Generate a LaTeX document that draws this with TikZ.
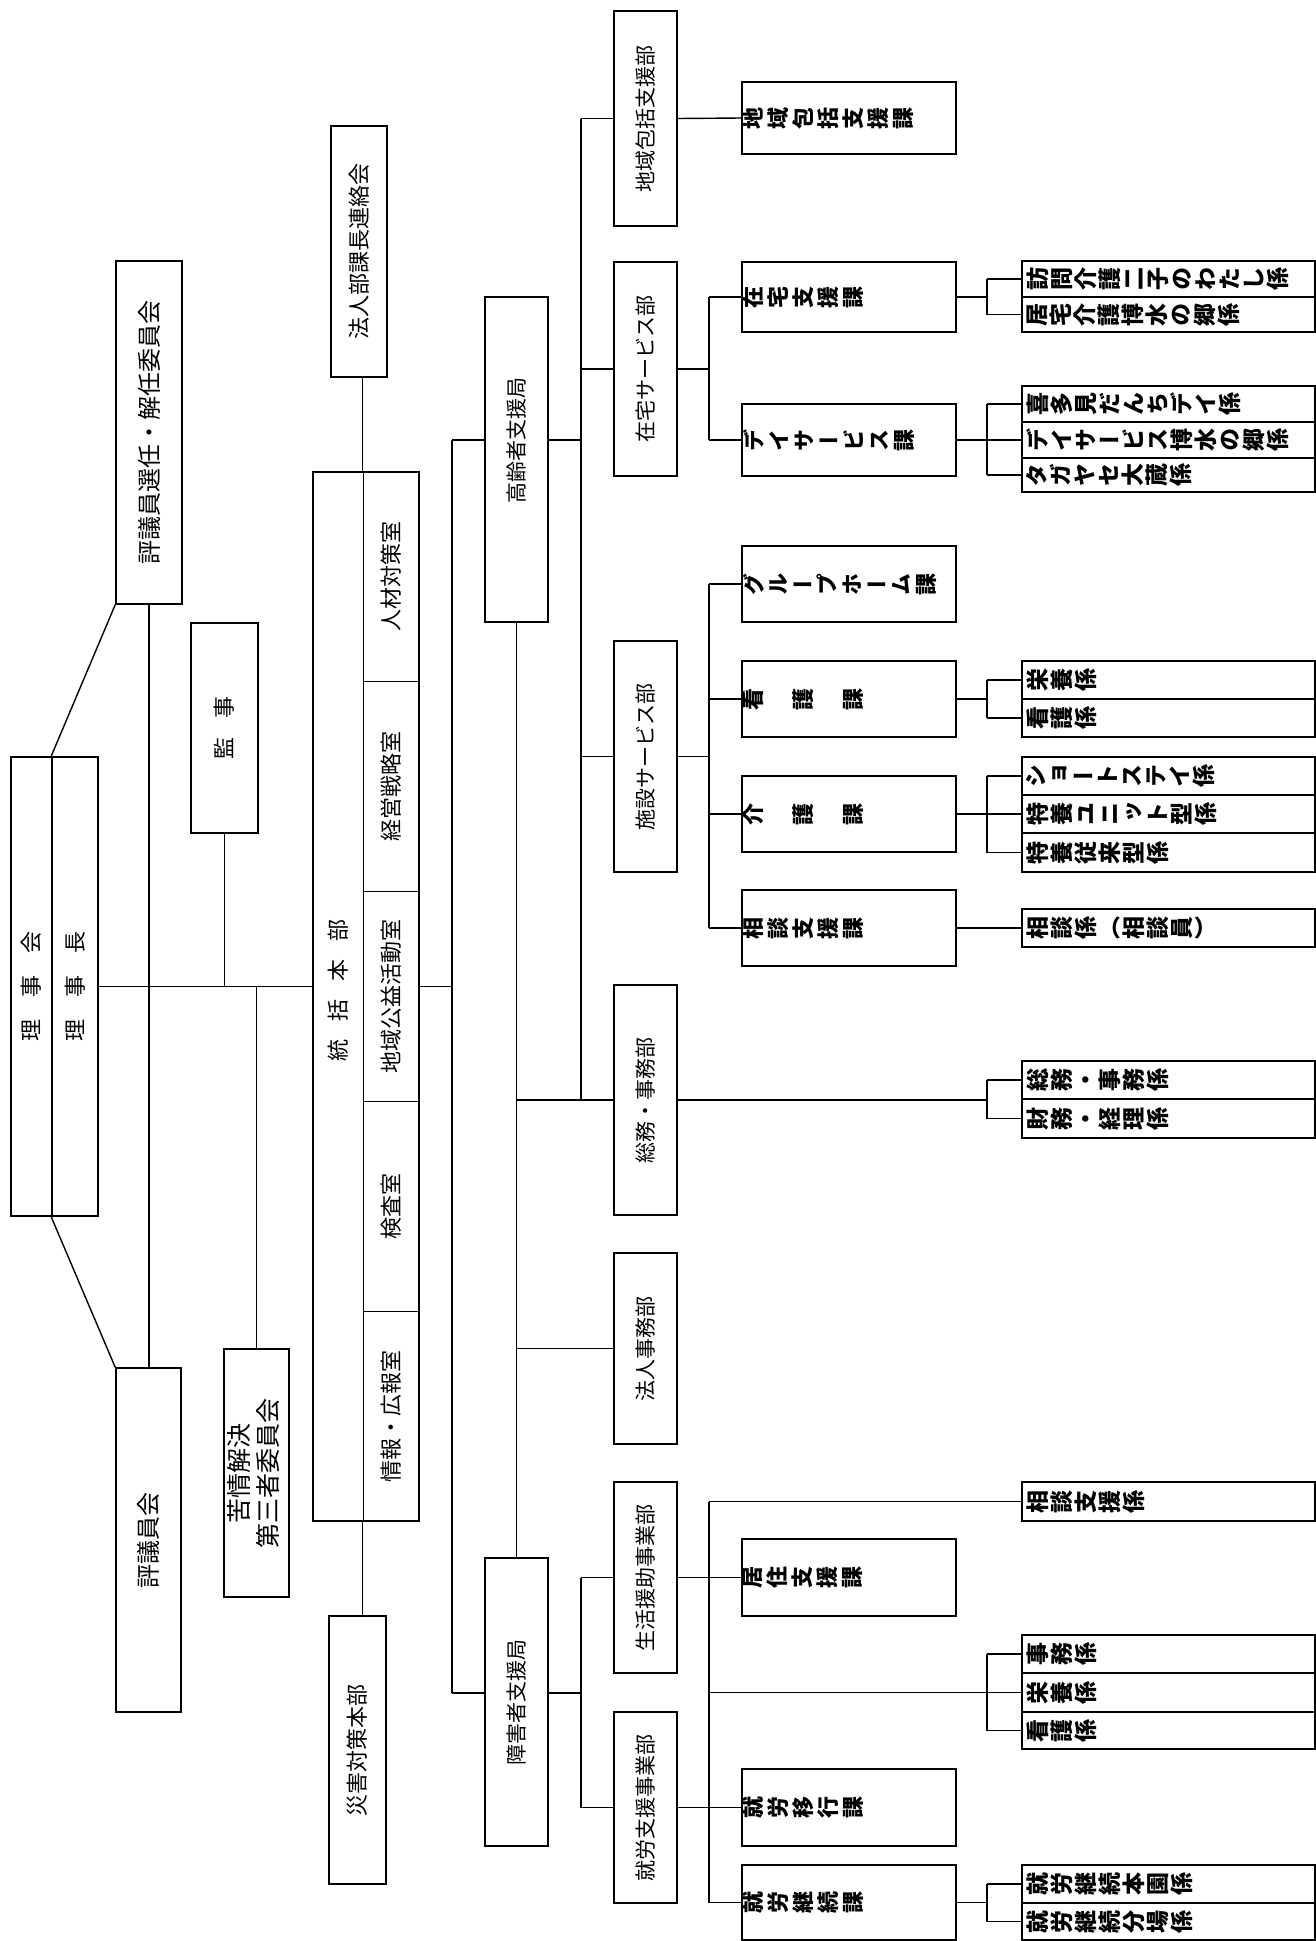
\documentclass[tikz,border=0pt]{standalone}
\usepackage{fontspec}
\usepackage{graphicx}
\setmainfont{Noto Sans CJK JP}
\newfontfamily\tatefont[RawFeature=+vert]{Noto Sans CJK JP}
\usetikzlibrary{calc}

% text turned a quarter left, read from the bottom up
\newcommand{\yoko}[1]{\rotatebox{90}{#1}}
% a column of upright characters, turned with the page
\newcommand{\tate}[2][25bp]{\noindent\rotatebox{90}{\parbox{1em}{\centering\lineskiplimit=-100bp\baselineskip=#1\relax #2\par}}}

\begin{document}
\begin{tikzpicture}[x=1bp,y=-1bp,
	box/.style={draw,line width=1.6bp,inner sep=0pt,font=\fontsize{21bp}{25bp}\selectfont},
	room/.style={draw,line width=1bp,inner sep=0pt,minimum width=56bp,minimum height=209.8bp,font=\fontsize{22bp}{26bp}\selectfont},
	bu/.style={box,minimum width=63bp},
	ka/.style={draw,line width=1.6bp,inner xsep=1bp,inner ysep=0pt,minimum width=214bp,text width=212bp,align=left,font=\tatefont\bfseries\fontsize{22bp}{25bp}\selectfont},
	kakari/.style={draw,line width=1.6bp,inner xsep=4.5bp,inner ysep=0pt,minimum width=293bp,text width=284bp,align=left,font=\tatefont\bfseries\fontsize{23bp}{24bp}\selectfont},
	link/.style={line width=1.4bp}]
	\useasboundingbox (0,0) rectangle (1316,1941);
	
	% board and committees
	\node[box,minimum width=66bp,minimum height=343bp,font=\fontsize{24bp}{28bp}\selectfont] (senin) at (149,432.5) {\yoko{評議員選任・解任委員会}};
	\node[box,minimum width=41bp,minimum height=459bp,font=\fontsize{22bp}{26bp}\selectfont] (rijikai) at (31.5,986.5) {\yoko{理　事　会}};
	\node[box,minimum width=46bp,minimum height=459bp,font=\fontsize{22bp}{26bp}\selectfont] (rijicho) at (75,986.5) {\yoko{理　事　長}};
	\node[box,minimum width=65bp,minimum height=344bp,font=\fontsize{24bp}{28bp}\selectfont] (hyogiin) at (148.5,1540) {\yoko{評議員会}};
	\node[box,minimum width=67bp,minimum height=210bp,font=\fontsize{22bp}{26bp}\selectfont] (kanji) at (224.5,728) {\yoko{監\hspace{19bp}事}};
	\node[box,minimum width=65bp,minimum height=248bp,font=\fontsize{25bp}{28bp}\selectfont] (kujo) at (256.5,1473) {\yoko{\begin{tabular}{@{}c@{}}苦情解決\\第三者委員会\end{tabular}}};
	\node[box,minimum width=56bp,minimum height=251bp,font=\fontsize{22bp}{26bp}\selectfont] (kachou) at (359,251.5) {\yoko{法人部課長連絡会}};
	\node[box,minimum width=57bp,minimum height=268bp,font=\fontsize{22bp}{26bp}\selectfont] (saigai) at (357.5,1750) {\yoko{災害対策本部}};
	
	% headquarters
	\node[box,minimum width=106bp,minimum height=1049bp] (tokatsu) at (366,996.5) {};
	\node[inner sep=0pt,font=\fontsize{22bp}{26bp}\selectfont] (tokatsu-t) at (338,990) {\yoko{統\hspace{18bp}括\hspace{18bp}本\hspace{18bp}部}};
	\node[room] (jinzai) at (391,576.9) {\yoko{人材対策室}};
	\node[room] (keiei) at (391,786.7) {\yoko{経営戦略室}};
	\node[room] (koueki) at (391,996.5) {\yoko{地域公益活動室}};
	\node[room] (kensa) at (391,1206.3) {\yoko{検査室}};
	\node[room] (joho) at (391,1416.1) {\yoko{情報・広報室}};
	
	\draw[link] (rijicho.east) -- (rijicho.east -| tokatsu.west);
	\draw[link] (senin.south west) -- (rijicho.north west);
	\draw[link] (rijicho.south west) -- (hyogiin.north west);
	\draw[link] (senin.south) -- (senin.south |- hyogiin.north);
	\draw[link] (kanji.south) -- (kanji.south |- rijicho.east);
	\draw[link] (kujo.north) -- (kujo.north |- rijicho.east);
	\draw[link] (jinzai.north west) -- (jinzai.north west |- kachou.south);
	\draw[link] (joho.south west) -- (joho.south west |- saigai.north);
	
	% bureaus
	\node[box,minimum width=63bp,minimum height=325bp] (koreisha) at (516.5,459.5) {\yoko{\hspace{39bp}高齢者支援局}};
	\node[box,minimum width=63bp,minimum height=288bp] (shogaisha) at (516.5,1702) {\yoko{障害者支援局}};
	\coordinate (ko-in) at (452,440);
	\coordinate (sh-in) at (452,1693);
	\draw[link] (ko-in) -- (sh-in);
	\draw[link] (rijicho.east -| tokatsu.east) -- (rijicho.east -| ko-in);
	\draw[link] (ko-in) -- (ko-in -| koreisha.west);
	\draw[link] (sh-in) -- (sh-in -| shogaisha.west);
	\draw[link] (koreisha.south) -- (shogaisha.north);
	
	% departments
	\node[bu,minimum height=215bp] (chiiki) at (645.5,118.5) {\yoko{地域包括支援部}};
	\node[bu,minimum height=214bp] (zaitaku) at (645.5,369) {\yoko{在宅サービス部}};
	\node[bu,minimum height=231bp] (shisetsu) at (645.5,756.5) {\yoko{施設サービス部}};
	\node[bu,minimum height=230bp] (somu) at (645.5,1100) {\yoko{総務・事務部}};
	\node[bu,minimum height=191bp] (hojin) at (645.5,1348.5) {\yoko{法人事務部}};
	\node[bu,minimum height=191bp] (seikatsu) at (645.5,1577.5) {\yoko{生活援助事業部}};
	\node[bu,minimum height=191bp] (shuro) at (645.5,1807.5) {\yoko{就労支援事業部}};
	
	\coordinate (ko-out) at (581,440);
	\draw[link] (ko-in -| koreisha.east) -- (ko-out);
	\draw[link] (ko-out |- chiiki.west) -- (ko-out |- somu.west);
	\draw[link] (ko-out |- chiiki.west) -- (chiiki.west);
	\draw[link] (ko-out |- zaitaku.west) -- (zaitaku.west);
	\draw[link] (ko-out |- shisetsu.west) -- (shisetsu.west);
	\draw[link] (koreisha.south |- somu.west) -- (somu.west);
	\draw[link] (koreisha.south |- hojin.west) -- (hojin.west);
	\coordinate (sh-out) at (581,1693);
	\draw[link] (sh-in -| shogaisha.east) -- (sh-out);
	\draw[link] (sh-out |- seikatsu.west) -- (sh-out |- shuro.west);
	\draw[link] (sh-out |- seikatsu.west) -- (seikatsu.west);
	\draw[link] (sh-out |- shuro.west) -- (shuro.west);
	
	% sections
	\node[ka,minimum height=72bp] (chiikika) at (849,118) {\tate{地\\域\\包\\括\\支\\援\\課}};
	\node[ka,minimum height=70bp] (zaitakushien) at (849,297) {\tate{在\\宅\\支\\援\\課}};
	\node[ka,minimum height=72bp] (dayservice) at (849,440) {\tate{デ\\イ\\サ\\ー\\ビ\\ス\\課}};
	\node[ka,minimum height=76bp] (grouphome) at (849,584) {\tate[24.6bp]{グ\\ル\\ー\\プ\\ホ\\ー\\ム\\課}};
	\node[ka,minimum height=76bp] (kango) at (849,699) {\tate{看\\[25bp]護\\[25bp]課}};
	\node[ka,minimum height=76bp] (kaigo) at (849,814) {\tate{介\\[25bp]護\\[25bp]課}};
	\node[ka,minimum height=76bp] (sodanshien) at (849,928) {\tate{相\\談\\支\\援\\課}};
	\node[ka,minimum height=77bp] (kyoju) at (849,1577.5) {\tate{居\\住\\支\\援\\課}};
	\node[ka,minimum height=77bp] (ikou) at (849,1807.5) {\tate{就\\労\\移\\行\\課}};
	\node[ka,minimum height=75bp] (keizoku) at (849,1902.5) {\tate{就\\労\\継\\続\\課}};
	
	\draw[link] (chiiki.east) -- (chiikika.west);
	\coordinate (za-bus) at (709,369);
	\draw[link] (zaitaku.east) -- (za-bus);
	\draw[link] (za-bus |- zaitakushien.west) -- (za-bus |- dayservice.west);
	\draw[link] (za-bus |- zaitakushien.west) -- (zaitakushien.west);
	\draw[link] (za-bus |- dayservice.west) -- (dayservice.west);
	\coordinate (si-bus) at (709,756.5);
	\draw[link] (shisetsu.east) -- (si-bus);
	\draw[link] (si-bus |- grouphome.west) -- (si-bus |- sodanshien.west);
	\draw[link] (si-bus |- grouphome.west) -- (grouphome.west);
	\draw[link] (si-bus |- kango.west) -- (kango.west);
	\draw[link] (si-bus |- kaigo.west) -- (kaigo.west);
	\draw[link] (si-bus |- sodanshien.west) -- (sodanshien.west);
	
	% units
	\node[kakari,minimum height=36bp] (houmon) at (1168.5,279) {\tate[24bp]{訪\\問\\介\\護\\二\\子\\の\\わ\\た\\し\\係}};
	\node[kakari,minimum height=35bp] (kyotaku) at (1168.5,314.5) {\tate[24bp]{居\\宅\\介\\護\\博\\水\\の\\郷\\係}};
	\node[kakari,minimum height=36bp] (kitami) at (1168.5,404) {\tate[24bp]{喜\\多\\見\\だ\\ん\\ち\\デ\\イ\\係}};
	\node[kakari,minimum height=36bp] (dayhaku) at (1168.5,440) {\tate[24bp]{デ\\イ\\サ\\ー\\ビ\\ス\\博\\水\\の\\郷\\係}};
	\node[kakari,minimum height=34bp] (tagayase) at (1168.5,475) {\tate[24bp]{タ\\ガ\\ヤ\\セ\\大\\蔵\\係}};
	\node[kakari,minimum height=38bp] (eiyo1) at (1168.5,680) {\tate[24bp]{栄\\養\\係}};
	\node[kakari,minimum height=38bp] (kango1) at (1168.5,718) {\tate[24bp]{看\\護\\係}};
	\node[kakari,minimum height=38bp] (short) at (1168.5,776) {\tate[24bp]{シ\\ョ\\ー\\ト\\ス\\テ\\イ\\係}};
	\node[kakari,minimum height=38bp] (unit) at (1168.5,814) {\tate[24bp]{特\\養\\ユ\\ニ\\ッ\\ト\\型\\係}};
	\node[kakari,minimum height=39bp] (juurai) at (1168.5,852.5) {\tate[24bp]{特\\養\\従\\来\\型\\係}};
	\node[kakari,minimum height=38bp] (sodan) at (1168.5,928) {\tate[24bp]{相\\談\\係\\（\\相\\談\\員\\）}};
	\node[kakari,minimum height=38bp] (somujimu) at (1168.5,1080) {\tate[24bp]{総\\務\\・\\事\\務\\係}};
	\node[kakari,minimum height=39bp] (zaimu) at (1168.5,1118.5) {\tate[24bp]{財\\務\\・\\経\\理\\係}};
	\node[kakari,minimum height=39bp] (shienkakari) at (1168.5,1501.5) {\tate[24bp]{相\\談\\支\\援\\係}};
	\node[kakari,minimum height=38bp] (jimu) at (1168.5,1654) {\tate[24bp]{事\\務\\係}};
	\node[kakari,minimum height=39bp] (eiyo2) at (1168.5,1692.5) {\tate[24bp]{栄\\養\\係}};
	\node[kakari,minimum height=37bp] (kango2) at (1168.5,1730.5) {\tate[24bp]{看\\護\\係}};
	\node[kakari,minimum height=38bp] (honen) at (1168.5,1884) {\tate[24bp]{就\\労\\継\\続\\本\\園\\係}};
	\node[kakari,minimum height=37bp] (bunjo) at (1168.5,1921.5) {\tate[24bp]{就\\労\\継\\続\\分\\場\\係}};
	
	\coordinate (kk) at (987,0);
	\draw[link] (zaitakushien.east) -- (zaitakushien.east -| kk);
	\draw[link] (houmon.west -| kk) -- (kyotaku.west -| kk);
	\draw[link] (houmon.west -| kk) -- (houmon.west);
	\draw[link] (kyotaku.west -| kk) -- (kyotaku.west);
	\draw[link] (dayservice.east) -- (dayhaku.west);
	\draw[link] (kitami.west -| kk) -- (tagayase.west -| kk);
	\draw[link] (kitami.west -| kk) -- (kitami.west);
	\draw[link] (tagayase.west -| kk) -- (tagayase.west);
	\draw[link] (kango.east) -- (kango.east -| kk);
	\draw[link] (eiyo1.west -| kk) -- (kango1.west -| kk);
	\draw[link] (eiyo1.west -| kk) -- (eiyo1.west);
	\draw[link] (kango1.west -| kk) -- (kango1.west);
	\draw[link] (kaigo.east) -- (unit.west);
	\draw[link] (short.west -| kk) -- (juurai.west -| kk);
	\draw[link] (short.west -| kk) -- (short.west);
	\draw[link] (juurai.west -| kk) -- (juurai.west);
	\draw[link] (sodanshien.east) -- (sodan.west);
	\draw[link] (somu.east) -- (somu.east -| kk);
	\draw[link] (somujimu.west -| kk) -- (zaimu.west -| kk);
	\draw[link] (somujimu.west -| kk) -- (somujimu.west);
	\draw[link] (zaimu.west -| kk) -- (zaimu.west);
	
	% lower bus of the second bureau
	\coordinate (low-bus) at (709,1501.5);
	\draw[link] (low-bus) -- (low-bus |- keizoku.west);
	\draw[link] (low-bus) -- (shienkakari.west);
	\draw[link] (seikatsu.east) -- (kyoju.west);
	\draw[link] (low-bus |- eiyo2.west) -- (eiyo2.west);
	\draw[link] (jimu.west -| kk) -- (kango2.west -| kk);
	\draw[link] (jimu.west -| kk) -- (jimu.west);
	\draw[link] (kango2.west -| kk) -- (kango2.west);
	\draw[link] (shuro.east) -- (ikou.west);
	\draw[link] (low-bus |- keizoku.west) -- (keizoku.west);
	\draw[link] (keizoku.east) -- (keizoku.east -| kk);
	\draw[link] (honen.west -| kk) -- (bunjo.west -| kk);
	\draw[link] (honen.west -| kk) -- (honen.west);
	\draw[link] (bunjo.west -| kk) -- (bunjo.west);
\end{tikzpicture}
\end{document}
